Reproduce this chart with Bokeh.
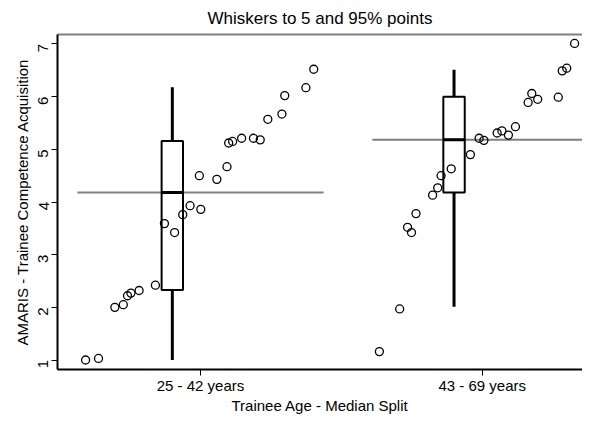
import math
from bokeh.plotting import figure
from bokeh.models import FixedTicker, LinearAxis, Range1d, ColumnDataSource
from bokeh.embed import file_html
from bokeh.resources import INLINE

# ---- data ----
groups = ["25 - 42 years", "43 - 69 years"]
group_pos = [1, 2]

young_values = [1.00, 1.03, 2.00, 2.05, 2.22, 2.27, 2.32, 2.42, 3.59, 3.42,
                3.76, 3.93, 3.86, 4.50, 4.43, 4.67, 5.12, 5.15, 5.21, 5.21,
                5.18, 5.57, 5.67, 6.02, 6.17, 6.52]
young_jitter = [-0.408, -0.362, -0.304, -0.274, -0.259, -0.247, -0.218, -0.160,
                -0.128, -0.092, -0.063, -0.037, 0.001, -0.004, 0.058, 0.094,
                0.100, 0.114, 0.146, 0.188, 0.212, 0.239, 0.289, 0.299, 0.374, 0.402]

old_values = [1.16, 1.97, 3.52, 3.42, 3.78, 4.13, 4.27, 4.50, 4.63, 4.90,
              5.21, 5.17, 5.31, 5.35, 5.27, 5.43, 5.89, 6.06, 5.95, 5.99,
              6.49, 6.54, 7.01]
old_jitter = [-0.365, -0.293, -0.265, -0.251, -0.235, -0.176, -0.158, -0.146,
              -0.110, -0.042, -0.011, 0.006, 0.053, 0.070, 0.093, 0.118,
              0.163, 0.176, 0.197, 0.270, 0.284, 0.300, 0.328]

# box statistics (whiskers to 5 and 95% points)
box_p5 = [1.00, 2.01]
box_q1 = [2.33, 4.18]
box_median = [4.18, 5.18]
box_q3 = [5.16, 6.00]
box_p95 = [6.18, 6.51]

y_ticks = [1, 2, 3, 4, 5, 6, 7]

# ---- style / layout constants ----
FONT = "Liberation Sans"
BOX_OFFSET = -0.10
BOX_HALF = 0.038
LINE_HALF = [0.437, 0.39]

p = figure(width=582, height=416, output_backend="svg", toolbar_location=None,
           x_range=Range1d(0.4924, 2.356), y_range=Range1d(0.82, 7.18),
           min_border_left=57, min_border_right=0, min_border_top=33,
           min_border_bottom=0)
p.background_fill_color = "white"
p.border_fill_color = "white"
p.outline_line_color = None
p.xgrid.visible = False
p.ygrid.visible = False

p.title.text = "Whiskers to 5 and 95% points"
p.title.align = "center"
p.title.text_font = FONT
p.title.text_font_style = "normal"
p.title.text_font_size = "17px"
p.title.text_color = "black"
p.title.standoff = 13

# grey median reference lines
for i, pos in enumerate(group_pos):
    p.line([pos - LINE_HALF[i], pos + LINE_HALF[i]], [box_median[i], box_median[i]],
           line_color="#808080", line_width=2)

# boxes
bx = [g + BOX_OFFSET for g in group_pos]
src = ColumnDataSource(dict(x=bx, left=[x - BOX_HALF for x in bx], right=[x + BOX_HALF for x in bx],
                            p5=box_p5, q1=box_q1, med=box_median, q3=box_q3, p95=box_p95))
p.segment(x0="x", y0="q3", x1="x", y1="p95", source=src, line_color="black", line_width=3)
p.segment(x0="x", y0="p5", x1="x", y1="q1", source=src, line_color="black", line_width=3)
p.quad(left="left", right="right", bottom="q1", top="q3", source=src,
       fill_color=None, line_color="black", line_width=2)
p.segment(x0="left", y0="med", x1="right", y1="med", source=src, line_color="black", line_width=3)

# points
xs = [group_pos[0] + j for j in young_jitter] + [group_pos[1] + j for j in old_jitter]
ys = young_values + old_values
p.scatter(xs, ys, marker="circle", size=8, fill_color=None, line_color="black", line_width=1.3)

# axes
p.xaxis.ticker = FixedTicker(ticks=group_pos)
p.xaxis.major_label_overrides = {pos: g for pos, g in zip(group_pos, groups)}
p.yaxis.ticker = FixedTicker(ticks=y_ticks)
p.yaxis.major_label_orientation = math.pi / 2
for ax in (p.xaxis, p.yaxis):
    ax.axis_line_color = "black"
    ax.axis_line_width = 2
    ax.major_tick_line_color = "black"
    ax.major_tick_line_width = 1
    ax.major_tick_out = 6
    ax.major_tick_in = 0
    ax.minor_tick_line_color = None
    ax.major_label_text_font = FONT
    ax.major_label_text_font_size = "15px"
    ax.major_label_text_color = "black"
    ax.axis_label_text_font = FONT
    ax.axis_label_text_font_style = "normal"
    ax.axis_label_text_font_size = "15px"
    ax.axis_label_text_color = "black"
p.xaxis.axis_label = "Trainee Age - Median Split"
p.yaxis.axis_label = "AMARIS - Trainee Competence Acquisition"
p.xaxis.major_label_standoff = 1
p.xaxis.axis_label_standoff = 0
p.yaxis.major_label_standoff = 8
p.yaxis.axis_label_standoff = 0

top_axis = LinearAxis(ticker=FixedTicker(ticks=[]), axis_line_color="#808080",
                      axis_line_width=2, major_tick_line_color=None,
                      minor_tick_line_color=None, major_label_text_font_size="0px")
p.add_layout(top_axis, "above")

open("out.html", "w").write(file_html(p, INLINE))
